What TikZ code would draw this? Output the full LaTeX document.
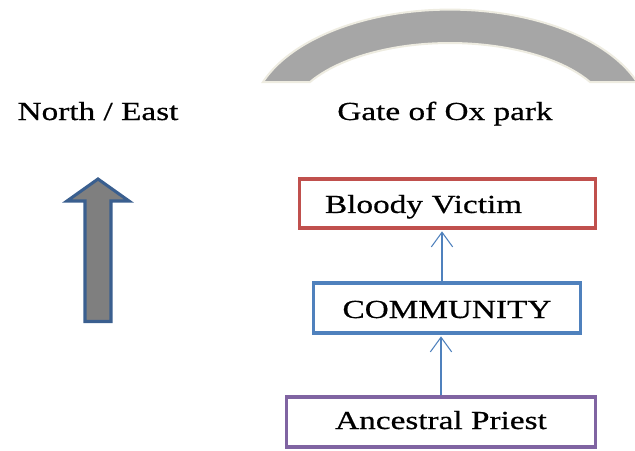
\documentclass[tikz,border=0pt]{standalone}
\usepackage{fontspec}
\setmainfont{Liberation Serif}[FakeStretch=1.28,FakeBold=0.6]
\usetikzlibrary{arrows.meta}
\definecolor{boxred}{HTML}{C0504D}
\definecolor{boxblue}{HTML}{4F81BD}
\definecolor{boxpurple}{HTML}{8064A2}
\definecolor{archgray}{HTML}{A6A6A6}
\definecolor{archedge}{HTML}{EEECE1}
\definecolor{arrowedge}{HTML}{3A5F8F}
\definecolor{arrowfill}{HTML}{7F7F7F}
\begin{document}
\begin{tikzpicture}[x=0.75pt,y=-0.75pt,
  txt/.style={font=\fontsize{19.5pt}{23pt}\selectfont, inner sep=0pt},
  stagebox/.style={draw, line width=2.6pt, inner sep=0pt, fill=white,
    font=\fontsize{19.5pt}{23pt}\selectfont, minimum height=37.5pt},
  conn/.style={draw=boxblue, line width=0.8pt, -{Straight Barb[length=11pt,width=16pt]}, shorten >=1.2pt}]
\useasboundingbox (0,0) rectangle (635,450);
\clip (0,0) rectangle (635,450);
% arch (gate)
\path[fill=archgray, draw=archedge, line width=1.5pt]
  (263,82) arc[start angle=-160, end angle=-20, x radius=199, y radius=110]
  -- (590,82) arc[start angle=-29.6, end angle=-150.4, x radius=161, y radius=77]
  -- cycle;
% headings
\node[txt, anchor=base] (ne) at (98,120) {North / East};
\node[txt, anchor=base] (gate) at (445,120) {Gate of Ox park};
% block arrow
\draw[line width=2.3pt, draw=arrowedge, fill=arrowfill, line join=miter]
  (85,321.5) -- (85,201) -- (67,201) -- (98,179) -- (129,201) -- (111,201) -- (111,321.5) -- cycle;
% boxes
\node[stagebox, draw=boxred, minimum width=222pt, minimum height=36.75pt,
  text width=183.75pt, inner xsep=19.125pt, align=left,
  text height=14.2pt, text depth=0pt] (bv) at (447.5,203.5) {Bloody Victim};
\node[stagebox, draw=boxblue, minimum width=200.25pt,
  text height=15pt, text depth=0pt] (comm) at (447,308) {COMMUNITY};
\node[stagebox, draw=boxpurple, minimum width=231.75pt,
  text height=14pt, text depth=3.5pt] (ap) at (441,422) {Ancestral Priest};
% connectors
\coordinate (ax1) at (442,0);
\coordinate (ax2) at (441,0);
\draw[conn] (comm.north -| ax1) -- (bv.south -| ax1);
\draw[conn] (ap.north -| ax2) -- (comm.south -| ax2);
\end{tikzpicture}
\end{document}
